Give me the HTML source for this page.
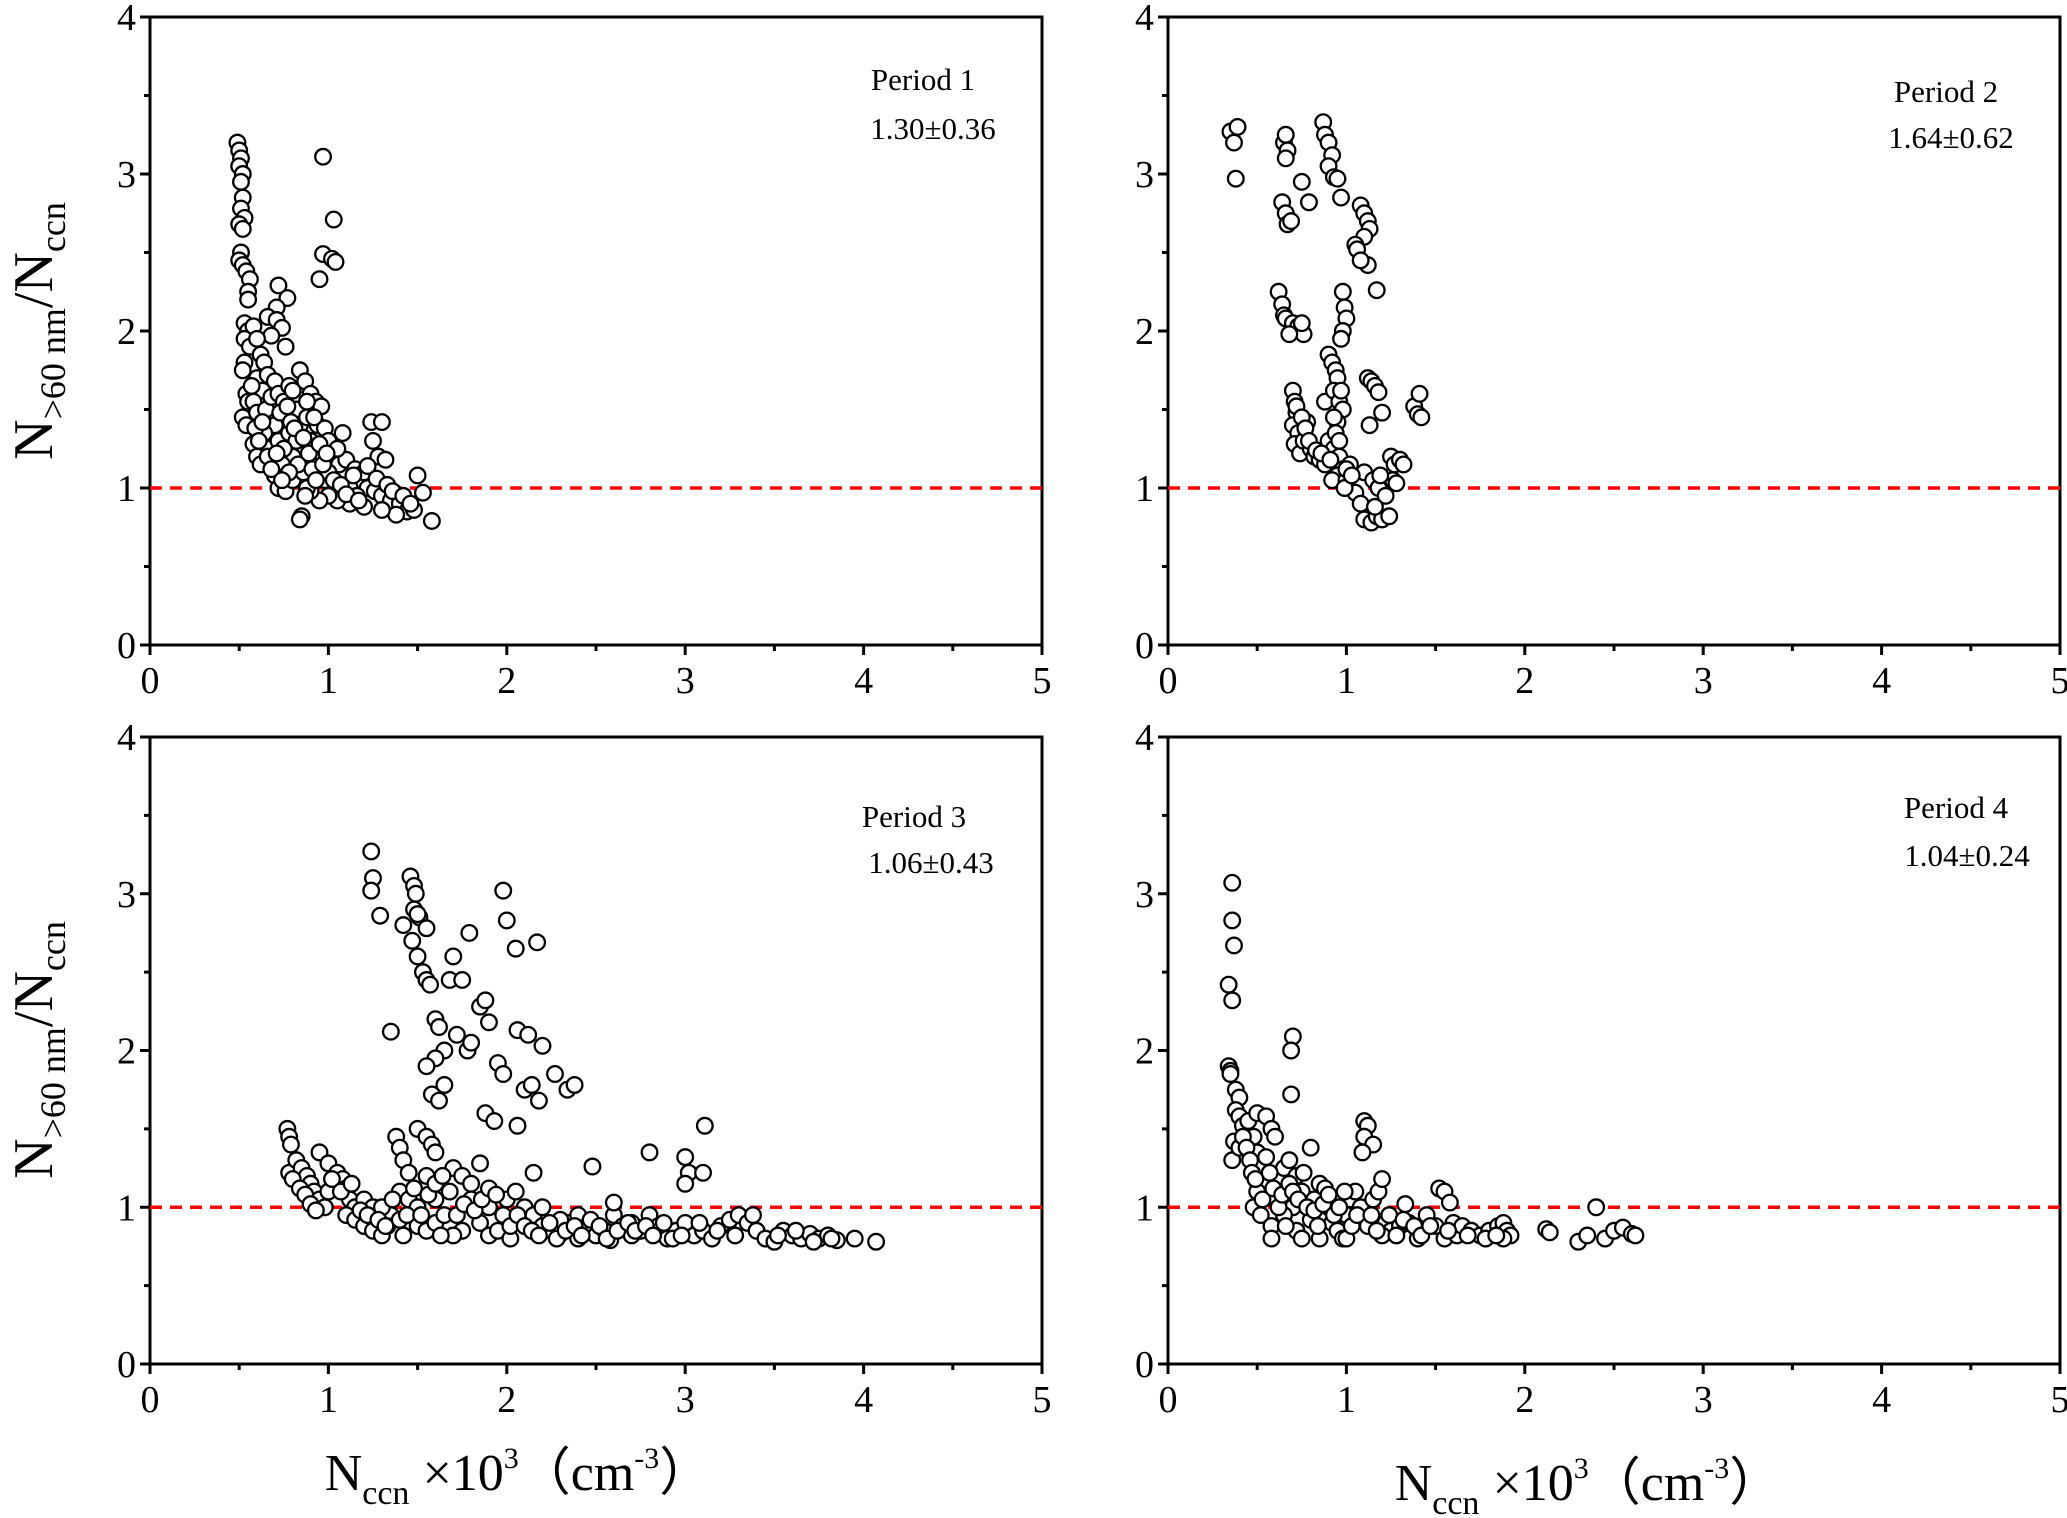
<!DOCTYPE html>
<html><head><meta charset="utf-8"><style>
html,body{margin:0;padding:0;background:#fff;}
svg{display:block;font-family:"Liberation Serif",serif;}
</style></head><body>
<svg id="chart" width="2067" height="1518" viewBox="0 0 2067 1518" xmlns="http://www.w3.org/2000/svg"></svg>
<script>
const xTicks=[0,1,2,3,4,5];
const yTicks=[0,1,2,3,4];
const periodLabels=["Period 1","Period 2","Period 3","Period 4"];
const periodStats=["1.30±0.36","1.64±0.62","1.06±0.43","1.04±0.24"];
const p1=[[0.49,3.2],[0.5,3.15],[0.51,3.1],[0.5,3.05],[0.52,3.0],[0.51,2.95],[0.52,2.85],[0.51,2.78],[0.53,2.72],[0.5,2.68],[0.52,2.65],[0.51,2.5],[0.5,2.45],[0.52,2.42],[0.54,2.38],[0.56,2.33],[0.55,2.25],[0.55,2.2],[0.53,2.05],[0.55,2.0],[0.53,1.95],[0.56,1.9],[0.53,1.8],[0.52,1.75],[0.54,1.6],[0.55,1.55],[0.52,1.45],[0.54,1.4],
[0.97,3.11],[1.03,2.71],[0.97,2.49],[1.02,2.46],[1.04,2.44],[0.95,2.33],[0.72,2.29],[0.77,2.21],[0.71,2.15],[0.66,2.09],[0.71,2.07],[0.74,2.02],[0.68,1.97],[0.76,1.9],
[0.58,2.03],[0.6,1.95],[0.62,1.85],[0.64,1.8],[0.6,1.7],[0.66,1.72],[0.7,1.68],[0.63,1.62],[0.58,1.55],[0.6,1.48],[0.65,1.5],[0.68,1.58],[0.72,1.6],[0.75,1.55],[0.78,1.65],[0.8,1.62],[0.84,1.75],[0.87,1.68],[0.9,1.6],[0.93,1.55],[0.96,1.52],[0.82,1.5],[0.76,1.45],[0.7,1.4],[0.64,1.35],[0.58,1.28],[0.6,1.2],[0.62,1.15],[0.67,1.25],[0.72,1.3],[0.78,1.35],[0.84,1.4],[0.88,1.45],[0.94,1.4],[0.98,1.38],[1.0,1.3],[0.9,1.3],[0.85,1.25],[0.8,1.2],[0.74,1.15],[0.7,1.08],[0.72,1.0],[0.76,0.98],[0.8,1.05],[0.86,1.1],[0.92,1.18],[0.96,1.22],[1.02,1.2],[1.06,1.15],[1.1,1.18],[1.05,1.25],[1.08,1.35],[1.15,1.12],[1.18,1.05],[1.2,1.1],[1.24,1.42],[1.3,1.42],[1.25,1.3],[1.28,1.2],[1.32,1.18],[1.22,1.0],[1.26,0.98],[1.3,0.95],[1.35,0.92],[1.4,0.9],[1.44,0.85],[1.48,0.86],[1.5,1.08],[1.53,0.97],[1.58,0.79],[1.38,0.83],[1.3,0.86],[1.2,0.88],[1.12,0.9],[1.05,0.92],[1.0,0.95],[0.95,0.92],[0.9,0.98],[0.85,0.82],[0.84,0.8],[0.88,1.0],[0.98,1.05],[1.0,1.1],[1.12,1.0],[1.16,0.95],[0.82,1.3],[0.75,1.25],
[0.57,1.65],[0.59,1.38],[0.61,1.3],[0.63,1.42],[0.66,1.2],[0.68,1.12],[0.71,1.22],[0.73,1.48],[0.77,1.52],[0.79,1.42],[0.81,1.38],[0.83,1.15],[0.86,1.32],[0.89,1.22],[0.91,1.12],[0.93,1.05],[0.95,1.28],[0.97,1.15],[0.99,1.22],[1.03,1.05],[1.07,1.02],[1.1,0.96],[1.14,1.08],[1.17,0.92],[1.22,1.14],[1.27,1.06],[1.33,1.02],[1.36,0.98],[1.42,0.95],[1.46,0.9],[0.78,1.1],[0.74,1.05],[0.87,0.95],[0.92,1.45],[0.88,1.55]];
const p2=[[0.35,3.27],[0.37,3.2],[0.39,3.3],[0.38,2.97],[0.65,3.2],[0.66,3.25],[0.67,3.15],[0.66,3.1],[0.64,2.82],[0.66,2.75],[0.67,2.68],[0.69,2.7],[0.79,2.82],[0.75,2.95],[0.87,3.33],[0.88,3.25],[0.9,3.2],[0.92,3.12],[0.9,3.05],[0.93,2.98],[0.95,2.97],[0.97,2.85],[1.08,2.8],[1.1,2.75],[1.12,2.7],[1.13,2.65],[1.1,2.6],[1.05,2.55],[1.06,2.52],[1.12,2.42],[1.08,2.45],[1.17,2.26],[0.98,2.25],[0.99,2.15],[1.0,2.08],[0.98,2.0],[0.97,1.95],[0.62,2.25],[0.64,2.17],[0.65,2.1],[0.66,2.08],[0.7,2.05],[0.73,2.03],[0.76,1.98],[0.68,1.98],[0.75,2.05],
[0.7,1.62],[0.71,1.55],[0.72,1.48],[0.7,1.4],[0.73,1.35],[0.71,1.28],[0.74,1.22],[0.76,1.3],[0.78,1.42],[0.8,1.25],[0.82,1.2],[0.85,1.18],[0.88,1.15],[0.9,1.3],[0.88,1.55],[0.9,1.85],[0.92,1.8],[0.94,1.75],[0.95,1.7],[0.93,1.62],[0.96,1.55],[0.98,1.5],[0.95,1.42],[0.94,1.35],[0.93,1.25],[0.96,1.2],[0.98,1.12],[0.95,1.08],[0.92,1.05],[1.0,1.05],[1.02,1.15],[1.05,0.97],[0.99,1.0],
[1.12,1.7],[1.14,1.68],[1.16,1.65],[1.18,1.61],[1.13,1.4],[1.2,1.48],[1.38,1.52],[1.4,1.47],[1.42,1.45],[1.41,1.6],[1.25,1.2],[1.27,1.15],[1.3,1.18],[1.32,1.15],[1.26,1.05],[1.28,1.03],[1.1,1.1],[1.15,1.05],[1.18,1.0],[1.12,0.85],[1.1,0.8],[1.14,0.78],[1.17,0.82],[1.2,0.8],[1.24,0.82],[1.22,0.95],[1.08,0.9],
[0.72,1.52],[0.75,1.45],[0.77,1.38],[0.79,1.3],[0.83,1.24],[0.86,1.22],[0.91,1.18],[0.93,1.45],[0.97,1.62],[0.96,1.3],[1.0,1.12],[1.03,1.08],[1.16,0.88],[1.19,1.08]];
const p3=[[0.77,1.5],[0.78,1.45],[0.79,1.4],[0.78,1.22],[0.82,1.3],[0.85,1.25],[0.88,1.2],[0.9,1.15],[0.92,1.1],[0.95,1.05],[0.98,1.0],[0.95,1.35],[1.0,1.28],[1.05,1.22],[1.08,1.18],[1.1,1.12],[1.12,1.05],[1.15,1.0],[1.1,0.95],[1.15,0.92],[1.2,0.88],[1.25,0.85],[1.3,0.82],[1.2,1.05],[1.25,1.0],[1.3,0.98],[1.35,0.95],[1.38,1.45],[1.4,1.38],[1.42,1.3],[1.45,1.22],[1.4,1.1],[1.45,1.05],[1.5,1.5],[1.55,1.45],[1.58,1.4],[1.6,1.35],[1.55,1.2],[1.5,1.0],[1.5,0.88],[1.55,0.85],[1.6,0.9],[1.65,0.95],[1.7,1.25],[1.75,1.2],[1.8,1.15],[1.85,1.28],[1.8,1.05],[1.75,0.85],[1.7,0.82],[1.85,0.9],[1.9,0.82],[1.95,0.85],[2.0,1.05],[2.05,1.1],[2.1,1.0],[2.15,0.95],[2.2,0.88],[2.25,0.85],[2.3,0.83],[2.35,0.9],[2.4,0.95],[2.45,0.88],[2.5,0.82],[2.55,0.85],[2.6,0.95],[2.65,0.88],[2.7,0.82],[2.75,0.85],[2.8,0.95],[2.85,0.88],[2.9,0.82],[2.95,0.85],[3.0,0.9],[3.05,0.82],[3.1,0.85],[3.15,0.8],[3.2,0.88],[3.25,0.92],[3.3,0.95],[3.35,0.9],[3.4,0.85],[3.45,0.8],[3.5,0.78],[3.55,0.85],[3.6,0.82],[3.65,0.8],[3.7,0.83],[3.75,0.8],[3.8,0.82],[3.85,0.79],[3.95,0.8],[4.07,0.78],[2.2,1.0],[2.6,1.03],[2.48,1.26],[2.8,1.35],[3.0,1.32],[3.02,1.22],[3.0,1.15],[3.1,1.22],[3.11,1.52],
[1.24,3.27],[1.25,3.1],[1.24,3.02],[1.29,2.86],[1.46,3.11],[1.48,3.05],[1.49,3.0],[1.48,2.9],[1.51,2.85],[1.5,2.87],[1.55,2.78],[1.42,2.8],[1.35,2.12],[1.47,2.7],[1.5,2.6],[1.53,2.5],[1.55,2.45],[1.57,2.42],[1.6,2.2],[1.62,2.15],[1.7,2.6],[1.68,2.45],[1.79,2.75],[1.75,2.45],[1.72,2.1],[1.65,2.0],[1.6,1.95],[1.55,1.9],[1.65,1.78],[1.58,1.72],[1.62,1.68],[1.78,2.0],[1.8,2.05],[1.85,2.28],[1.88,2.32],[1.9,2.18],[1.95,1.92],[1.98,1.85],[1.88,1.6],[1.93,1.55],[1.98,3.02],[2.0,2.83],[2.05,2.65],[2.17,2.69],[2.06,2.13],[2.12,2.1],[2.2,2.03],[2.1,1.75],[2.14,1.78],[2.18,1.68],[2.06,1.52],[2.27,1.85],[2.34,1.75],[2.38,1.78],[2.15,1.22],[1.3,1.0],[1.6,1.05],[1.9,1.0],[2.3,0.92],[2.7,0.9],[1.0,1.1],[1.33,0.88],[1.42,0.82],[1.63,0.82],[2.02,0.8],[2.4,0.8],[2.58,0.79],[2.9,0.8],
[0.8,1.18],[0.84,1.12],[0.87,1.08],[0.9,1.02],[0.93,0.98],[1.02,1.18],[1.07,1.1],[1.13,1.15],[1.18,0.98],[1.22,0.95],[1.28,0.92],[1.32,0.88],[1.36,1.05],[1.4,0.92],[1.44,0.95],[1.48,1.12],[1.52,0.95],[1.56,1.08],[1.6,1.15],[1.64,1.2],[1.68,1.1],[1.72,0.95],[1.76,1.02],[1.82,0.98],[1.86,1.05],[1.9,1.12],[1.94,1.08],[1.98,0.95],[2.02,0.88],[2.06,0.95],[2.1,0.88],[2.14,0.85],[2.18,0.82],[2.24,0.9],[2.28,0.8],[2.33,0.85],[2.38,0.88],[2.42,0.82],[2.47,0.92],[2.52,0.88],[2.56,0.8],[2.62,0.85],[2.68,0.9],[2.72,0.85],[2.78,0.88],[2.82,0.82],[2.88,0.9],[2.93,0.8],[2.98,0.82],[3.08,0.9],[3.18,0.85],[3.28,0.82],[3.38,0.95],[3.52,0.82],[3.62,0.85],[3.72,0.78],[3.82,0.8]];
const p4=[[0.36,3.07],[0.36,2.83],[0.37,2.67],[0.34,2.42],[0.36,2.32],[0.34,1.9],[0.35,1.87],[0.35,1.85],[0.7,2.09],[0.69,2.0],[0.69,1.72],[0.38,1.75],[0.4,1.7],[0.38,1.62],[0.4,1.58],[0.42,1.52],[0.37,1.42],[0.36,1.3],[0.4,1.38],[0.45,1.55],[0.5,1.6],[0.55,1.58],[0.58,1.5],[0.6,1.45],[0.48,1.45],[0.5,1.35],[0.52,1.25],[0.55,1.15],[0.5,1.1],[0.48,1.0],[0.52,0.95],[0.58,0.88],[0.6,1.05],[0.62,1.18],[0.65,1.25],[0.68,1.3],[0.72,1.2],[0.75,1.1],[0.7,1.0],[0.72,0.85],[0.75,0.8],[0.8,0.92],[0.82,1.05],[0.85,1.15],[0.8,1.38],[0.88,1.12],[0.9,1.0],[0.92,0.9],[0.95,0.85],[0.98,0.8],[1.0,0.95],[1.02,1.05],[1.05,1.1],[1.08,1.0],[1.1,0.92],[1.12,0.88],[1.15,1.05],[1.18,1.1],[1.2,1.18],[1.1,1.55],[1.12,1.52],[1.1,1.45],[1.15,1.4],[1.09,1.35],[1.22,0.9],[1.25,0.85],[1.3,0.88],[1.33,1.02],[1.35,0.9],[1.4,0.85],[1.45,0.95],[1.5,0.88],[1.52,1.12],[1.55,1.1],[1.58,1.03],[1.6,0.9],[1.55,0.8],[1.62,0.82],[1.65,0.88],[1.7,0.85],[1.75,0.82],[1.8,0.85],[1.85,0.88],[1.88,0.9],[1.9,0.85],[1.92,0.82],[1.88,0.8],[0.65,0.95],[0.58,0.8],[0.85,0.8],[1.0,0.8],[1.2,0.82],[1.4,0.8],[2.12,0.86],[2.14,0.84],[2.3,0.78],[2.35,0.82],[2.4,1.0],[2.45,0.8],[2.5,0.85],[2.55,0.87],[2.6,0.83],[2.62,0.82],
[0.42,1.45],[0.44,1.38],[0.46,1.3],[0.47,1.22],[0.49,1.18],[0.53,1.05],[0.55,1.32],[0.57,1.22],[0.59,1.12],[0.62,1.0],[0.64,1.08],[0.66,0.88],[0.68,1.15],[0.7,1.1],[0.73,1.05],[0.76,1.22],[0.78,1.0],[0.82,0.98],[0.84,0.88],[0.87,1.02],[0.9,1.08],[0.93,0.95],[0.96,1.0],[0.99,1.1],[1.03,0.88],[1.06,0.95],[1.14,0.95],[1.17,0.85],[1.24,0.95],[1.28,0.82],[1.32,0.92],[1.38,0.88],[1.42,0.82],[1.47,0.88],[1.57,0.85],[1.68,0.82],[1.78,0.8],[1.84,0.82]];
const series=[p1,p2,p3,p4];
const panels=[{x0:150,x1:1042,y0:645,y1:17},{x0:1168,x1:2060,y0:645,y1:17},{x0:150,x1:1042,y0:1364,y1:737},{x0:1168,x1:2060,y0:1364,y1:737}];
const annot=[[923,79,933,128],[1946,91,1951,137],[914,816,931,862],[1956,807,1967,855]];
const NS="http://www.w3.org/2000/svg";
const svg=document.getElementById('chart');
function mk(tag,attrs,parent){const e=document.createElementNS(NS,tag);for(const k in attrs)e.setAttribute(k,attrs[k]);(parent||svg).appendChild(e);return e;}
panels.forEach((p,i)=>{
  const g=mk('g',{});
  
  
  const sx=v=>p.x0+(p.x1-p.x0)*v/5;
  const sy=v=>p.y0+(p.y1-p.y0)*v/4;
  const frame=mk('rect',{x:p.x0,y:p.y1,width:p.x1-p.x0,height:p.y0-p.y1,fill:'none',stroke:'#000','stroke-width':3},g);
  
  
  for(let v=0;v<=5.001;v+=0.5){const major=Math.abs(v-Math.round(v))<0.01;mk('line',{x1:sx(v),x2:sx(v),y1:p.y0,y2:p.y0+(major?10:6),stroke:'#000','stroke-width':3},g);}
  for(let v=0;v<=4.001;v+=0.5){const major=Math.abs(v-Math.round(v))<0.01;mk('line',{x1:p.x0,x2:p.x0-(major?10:6),y1:sy(v),y2:sy(v),stroke:'#000','stroke-width':3},g);}
  xTicks.forEach(t=>{const tx=mk('text',{x:sx(t),y:p.y0+48,'text-anchor':'middle','font-size':38},g);tx.textContent=t;
    
    });
  yTicks.forEach(t=>{const tx=mk('text',{x:p.x0-14,y:sy(t)+13,'text-anchor':'end','font-size':38},g);tx.textContent=t;
    
    });
  const ref=mk('line',{x1:p.x0,x2:p.x1,y1:sy(1),y2:sy(1),stroke:'#f00','stroke-width':3.5,'stroke-dasharray':'12,8'},g);
  
  
  series[i].forEach(d=>{const c=mk('circle',{cx:sx(d[0]),cy:sy(d[1]),r:7.8,fill:'#fff',stroke:'#000','stroke-width':2.3},g);
    
    });
  const a=annot[i];
  const t1=mk('text',{x:a[0],y:a[1]+11,'text-anchor':'middle','font-size':31},g);t1.textContent=periodLabels[i];
  
  
  const t2=mk('text',{x:a[2],y:a[3]+11,'text-anchor':'middle','font-size':31},g);t2.textContent=periodStats[i];
  
  
});
</script>
<svg style="position:absolute;left:0;top:0" width="2067" height="1518">
<g font-family="Liberation Serif, serif" fill="#000">
<text transform="translate(52,331) rotate(-90)" text-anchor="middle" font-size="56">N<tspan font-size="36" dy="13">&gt;60 nm</tspan><tspan dy="-13">/N</tspan><tspan font-size="36" dy="13">ccn</tspan></text>
<text transform="translate(52,1050) rotate(-90)" text-anchor="middle" font-size="56">N<tspan font-size="36" dy="13">&gt;60 nm</tspan><tspan dy="-13">/N</tspan><tspan font-size="36" dy="13">ccn</tspan></text>
<text x="518" y="1490" text-anchor="middle" font-size="52">N<tspan font-size="34" dy="14">ccn</tspan><tspan dy="-14"> ×10</tspan><tspan font-size="30" dy="-22">3</tspan><tspan dy="22">（cm</tspan><tspan font-size="30" dy="-22">-3</tspan><tspan dy="22">）</tspan></text>
<text x="1588" y="1500" text-anchor="middle" font-size="52">N<tspan font-size="34" dy="14">ccn</tspan><tspan dy="-14"> ×10</tspan><tspan font-size="30" dy="-22">3</tspan><tspan dy="22">（cm</tspan><tspan font-size="30" dy="-22">-3</tspan><tspan dy="22">）</tspan></text>
</g></svg>
</body></html>
